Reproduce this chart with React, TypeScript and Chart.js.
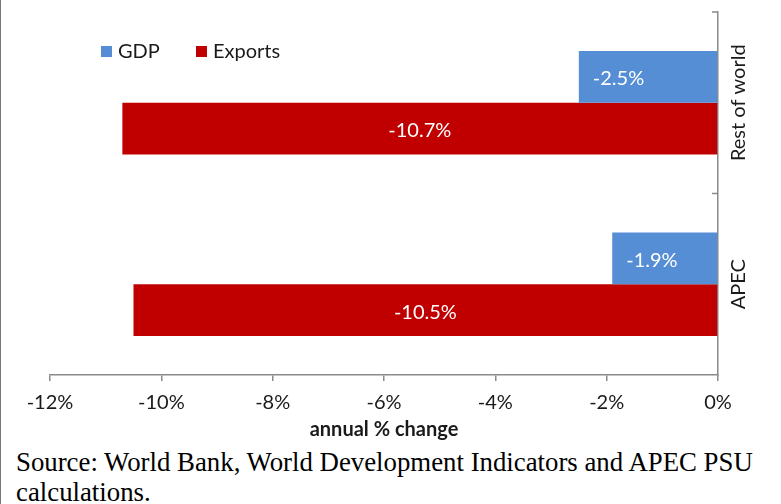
import React, { useEffect, useRef } from 'react';
import { Chart, registerables } from 'chart.js';

Chart.register(...registerables);

const categories = ['Rest of world', 'APEC'];
const seriesNames = ['GDP', 'Exports'];
const gdpValues = [-2.5, -1.9];
const exportValues = [-10.7, -10.5];
const xMin = -12;
const xMax = 0;
const xStep = 2;
const axisTitle = 'annual % change';
const headingText = 'Figure 3: Impact of the crisis';
const sourceLines = ['Source: World Bank, World Development Indicators and APEC PSU', 'calculations.'];

const FONT = 'Lato, "Open Sans", sans-serif';
const TEXT = '#1a1a1a';
const AXIS = '#8a8a8a';
const BLUE = '#558ED5';
const RED = '#C00000';
const FS = 20;

const customPlugin = {
  id: 'customDraw',
  afterDatasetsDraw(chart: any) {
    const ctx = chart.ctx;
    chart.data.datasets.forEach((ds: any, di: number) => {
      const meta = chart.getDatasetMeta(di);
      meta.data.forEach((bar: any, i: number) => {
        const v = ds.data[i] as number;
        const txt = v.toFixed(1) + '%';
        const { x, y, base } = bar.getProps(['x', 'y', 'base'], true);
        ctx.save();
        ctx.fillStyle = '#ffffff';
        ctx.font = `${FS}px ${FONT}`;
        ctx.textBaseline = 'middle';
        if (di === 0) {
          ctx.textAlign = 'left';
          ctx.fillText(txt, Math.min(x, base) + 14, y + 2);
        } else {
          ctx.textAlign = 'center';
          ctx.fillText(txt, (x + base) / 2, y + 2);
        }
        ctx.restore();
      });
    });
  },
  afterDraw(chart: any) {
    const ctx = chart.ctx;
    const area = chart.chartArea;
    const yScale = chart.scales.y;
    const p0 = yScale.getPixelForValue(0);
    const p1 = yScale.getPixelForValue(1);
    const half = (p1 - p0) / 2;
    // inward tick marks on the category axis
    ctx.save();
    ctx.strokeStyle = AXIS;
    ctx.lineWidth = 1.5;
    const bounds = [p0 - half, p0 + half];
    bounds.forEach((b) => {
      ctx.beginPath();
      ctx.moveTo(area.right - 6, b);
      ctx.lineTo(area.right, b);
      ctx.stroke();
    });
    ctx.restore();
    // rotated category labels
    chart.data.labels.forEach((lab: string, i: number) => {
      const py = yScale.getPixelForValue(i);
      ctx.save();
      ctx.translate(area.right + 21, py);
      ctx.rotate(-Math.PI / 2);
      ctx.fillStyle = TEXT;
      ctx.font = `${FS}px ${FONT}`;
      ctx.textAlign = 'center';
      ctx.textBaseline = 'middle';
      ctx.fillText(lab, 0, 0);
      ctx.restore();
    });
    // legend
    const legendX = [100, 195];
    chart.data.datasets.forEach((ds: any, di: number) => {
      const lx = legendX[di];
      ctx.save();
      ctx.fillStyle = ds.backgroundColor;
      ctx.fillRect(lx, 46, 11, 11);
      ctx.fillStyle = TEXT;
      ctx.font = `${FS}px ${FONT}`;
      ctx.textAlign = 'left';
      ctx.textBaseline = 'middle';
      ctx.fillText(ds.label, lx + 17, 52);
      ctx.restore();
    });
  },
};

export default function App() {
  const canvasRef = useRef<HTMLCanvasElement | null>(null);

  useEffect(() => {
    document.body.style.margin = '0';
    const canvas = canvasRef.current;
    if (!canvas) return;
    const chart = new Chart(canvas, {
      type: 'bar',
      data: {
        labels: categories,
        datasets: [
          {
            label: seriesNames[0],
            data: gdpValues,
            backgroundColor: BLUE,
            categoryPercentage: 0.57,
            barPercentage: 1.0,
          },
          {
            label: seriesNames[1],
            data: exportValues,
            backgroundColor: RED,
            categoryPercentage: 0.57,
            barPercentage: 1.0,
          },
        ],
      },
      options: {
        indexAxis: 'y',
        animation: false,
        responsive: false,
        maintainAspectRatio: false,
        layout: { padding: { left: 49, top: 12, right: 0, bottom: 0 } },
        plugins: {
          legend: { display: false },
          tooltip: { enabled: false },
        },
        scales: {
          x: {
            type: 'linear',
            min: xMin,
            max: xMax,
            ticks: {
              stepSize: xStep,
              callback: (v: any) => `${v}%`,
              color: TEXT,
              font: { family: FONT, size: FS },
              padding: 10,
            },
            grid: {
              drawOnChartArea: false,
              drawTicks: true,
              tickLength: 6,
              color: AXIS,
              lineWidth: 1.5,
            },
            border: { display: true, color: AXIS, width: 1.5 },
            title: {
              display: true,
              text: axisTitle,
              color: TEXT,
              font: { family: FONT, size: FS, weight: 'bold' },
              padding: { top: 0, bottom: 3 },
            },
            afterFit: (s: any) => {
              s.height = 70;
            },
          },
          y: {
            position: 'right',
            ticks: { display: false },
            grid: { display: false },
            border: { display: true, color: AXIS, width: 1.5 },
            afterFit: (s: any) => {
              s.width = 64;
            },
          },
        },
      },
      plugins: [customPlugin],
    } as any);
    return () => chart.destroy();
  }, []);

  return (
    <div
      style={{
        position: 'relative',
        width: 781,
        height: 504,
        overflow: 'hidden',
        background: '#fff',
        borderLeft: '1px solid #777',
        boxSizing: 'border-box',
      }}
    >
      <div
        style={{
          position: 'absolute',
          left: 27,
          top: -23,
          fontFamily: '"Liberation Serif", "Times New Roman", serif',
          fontWeight: 'bold',
          fontSize: 22,
          lineHeight: '22px',
          whiteSpace: 'nowrap',
          color: '#000',
        }}
      >
        {headingText}
      </div>
      <canvas
        ref={canvasRef}
        width={781}
        height={445}
        style={{ position: 'absolute', left: 0, top: 0, width: 781, height: 445 }}
      />
      <div
        style={{
          position: 'absolute',
          left: 15,
          top: 447,
          fontFamily: '"Liberation Serif", "Times New Roman", serif',
          fontSize: 26.8,
          lineHeight: '30px',
          whiteSpace: 'nowrap',
          color: '#000',
        }}
      >
        {sourceLines.map((l, i) => (
          <div key={i}>{l}</div>
        ))}
      </div>
    </div>
  );
}
